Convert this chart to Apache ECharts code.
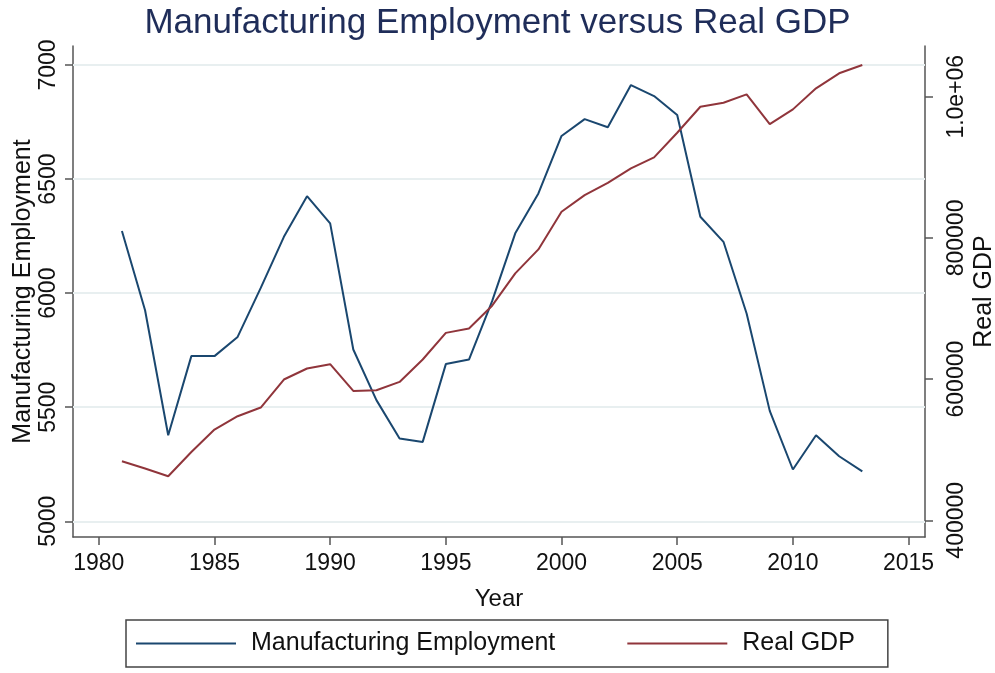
<!DOCTYPE html>
<html>
<head>
<meta charset="utf-8">
<script src="https://cdn.jsdelivr.net/npm/echarts@6/dist/echarts.min.js"></script>
<style>
html,body{margin:0;padding:0;background:#fff;}
#chart{width:995px;height:673px;}
</style>
</head>
<body>
<div id="chart"></div>
<script>
const years = [1981,1982,1983,1984,1985,1986,1987,1988,1989,1990,1991,1992,1993,1994,1995,1996,1997,1998,1999,2000,2001,2002,2003,2004,2005,2006,2007,2008,2009,2010,2011,2012,2013];
const employment = [6272,5925,5377,5724,5724,5808,6023,6247,6425,6306,5753,5531,5363,5348,5689,5709,5965,6262,6437,6689,6763,6727,6912,6864,6781,6335,6225,5911,5484,5227,5377,5285,5219];
const realGdp = [483600,473300,462400,496800,528500,547400,559700,599400,615000,621100,583300,584300,596000,627800,665500,671700,704000,749700,783700,837000,860700,878100,898500,914100,949000,985800,991500,1003400,961300,982100,1011900,1033200,1044900];
const xTicks = [1980,1985,1990,1995,2000,2005,2010,2015];
const leftTicks = [5000,5500,6000,6500,7000];
const rightTicks = [400000,600000,800000,1000000];
const rightTickLabels = ['400000','600000','800000','1.0e+06'];

const FONT = 'Liberation Sans';
const AXIS_COLOR = '#555555';
const chart = echarts.init(document.getElementById('chart'), null, {renderer:'canvas'});
const option = {
  backgroundColor: '#ffffff',
  animation: false,
  textStyle: {fontFamily: FONT},
  title: {
    text: 'Manufacturing Employment versus Real GDP',
    left: 'center',
    top: 1,
    textStyle: {fontFamily: FONT, fontSize: 35, fontWeight: 'normal', color: '#1f2d59'}
  },
  grid: {left: 73, right: 70, top: 46, height: 491, containLabel: false, outerBoundsMode: 'none'},
  legend: {
    left: 126, top: 620,
    padding: [11, 33, 11, 10],
    borderColor: '#444444', borderWidth: 1.5,
    icon: 'rect',
    itemWidth: 100, itemHeight: 2, itemGap: 72,
    textStyle: {fontFamily: FONT, fontSize: 25, color: '#111', padding: [0,0,0,10]},
    data: ['Manufacturing Employment', 'Real GDP']
  },
  xAxis: {
    type: 'value', min: 1978.885, max: 2015.71,
    name: 'Year', nameLocation: 'middle', nameGap: 50,
    nameTextStyle: {fontFamily: FONT, fontSize: 24, color: '#111'},
    axisLine: {show: true, lineStyle: {color: AXIS_COLOR, width: 1.5}},
    axisTick: {show: true, length: 8, lineStyle: {color: AXIS_COLOR, width: 1.5}, customValues: xTicks},
    axisLabel: {show: true, margin: 15, fontFamily: FONT, fontSize: 23, color: '#111', customValues: xTicks,
      formatter: v => String(v)},
    splitLine: {show: false}
  },
  yAxis: [
    {
      type: 'value', position: 'left', min: 4931.1, max: 7083.3,
      name: 'Manufacturing Employment', nameLocation: 'middle', nameGap: 37, nameRotate: 90,
      nameMoveOverlap: false,
      nameTextStyle: {fontFamily: FONT, fontSize: 25, color: '#111'},
      axisLine: {show: true, lineStyle: {color: AXIS_COLOR, width: 1.5}},
      axisTick: {show: true, length: 8, lineStyle: {color: AXIS_COLOR, width: 1.5}, customValues: leftTicks},
      axisLabel: {show: true, rotate: 90, margin: 13, fontFamily: FONT, fontSize: 23, color: '#111', customValues: leftTicks,
        formatter: v => String(v)},
      splitLine: {show: false}
    },
    {
      type: 'value', position: 'right', min: 376330, max: 1071865,
      name: 'Real GDP', nameLocation: 'middle', nameGap: 47, nameRotate: 90,
      nameMoveOverlap: false,
      nameTextStyle: {fontFamily: FONT, fontSize: 25, color: '#111'},
      axisLine: {show: true, lineStyle: {color: AXIS_COLOR, width: 1.5}},
      axisTick: {show: true, length: 8, lineStyle: {color: AXIS_COLOR, width: 1.5}, customValues: rightTicks},
      axisLabel: {show: true, rotate: 90, margin: 20, fontFamily: FONT, fontSize: 23, color: '#111', customValues: rightTicks,
        formatter: v => rightTickLabels[rightTicks.indexOf(v)] !== undefined ? rightTickLabels[rightTicks.indexOf(v)] : String(v)},
      splitLine: {show: false}
    }
  ],
  series: [
    {
      name: 'Manufacturing Employment', type: 'line', yAxisIndex: 0,
      data: years.map((y, i) => [y, employment[i]]),
      symbol: 'none', z: 3,
      lineStyle: {color: '#1a476f', width: 2},
      itemStyle: {color: '#1a476f'},
      markLine: {
        silent: true, symbol: ['none','none'], z: 1,
        label: {show: false},
        lineStyle: {color: '#e8eff0', width: 2, type: 'solid'},
        emphasis: {disabled: true},
        data: leftTicks.map(t => ({yAxis: t}))
      }
    },
    {
      name: 'Real GDP', type: 'line', yAxisIndex: 1,
      data: years.map((y, i) => [y, realGdp[i]]),
      symbol: 'none', z: 3,
      lineStyle: {color: '#90353b', width: 2},
      itemStyle: {color: '#90353b'}
    }
  ]
};
chart.setOption(option);
</script>
</body>
</html>
